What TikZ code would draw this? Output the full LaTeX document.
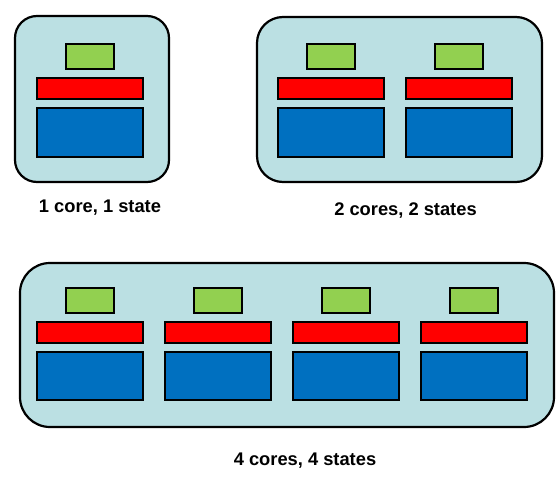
\documentclass[tikz,border=0pt]{standalone}
\usepackage{fontspec}
\setmainfont{Liberation Sans}
\definecolor{chipbg}{HTML}{BBE0E3}
\definecolor{stategreen}{HTML}{92D050}
\definecolor{cachered}{HTML}{FF0000}
\definecolor{coreblue}{HTML}{0070C0}
\tikzset{
  chip/.style={draw=black, line width=2.2pt, fill=chipbg},
  part/.style={draw=black, line width=2pt, inner sep=0pt, outer sep=0pt, anchor=north west},
  statebox/.style={part, fill=stategreen, minimum width=48pt, minimum height=25pt},
  cachebox/.style={part, fill=cachered, minimum width=106pt, minimum height=21pt},
  corebox/.style={part, fill=coreblue, minimum width=106pt, minimum height=48pt},
  caption/.style={font=\bfseries\fontsize{18.3}{21}\selectfont, anchor=base, inner sep=0pt}
}
\begin{document}
\begin{tikzpicture}[x=1pt,y=-1pt]
\useasboundingbox (0,0) rectangle (556,476);

% package outlines
\draw[chip, rounded corners=22pt] (15,16) rectangle (169,182);
\draw[chip, rounded corners=26pt] (257,17) rectangle (542,182);
\draw[chip, rounded corners=30pt] (20,263) rectangle (554,427);

% one core: state block, cache bar, execution unit
% argument: name / left x / top y
\foreach \nm/\x/\y in {a/36/44, b/277/44, c/405/44,
                       d/36/287, e/164/287, f/292/287, g/420/287} {
  \node[statebox] (s\nm) at (\x+29.5,\y+0.5) {};
  \node[cachebox] (r\nm) at (\x+0.5,\y+34.5) {};
  \node[corebox]  (k\nm) at (\x+0.5,\y+64.5) {};
}

% captions
\node[caption] (cap1) at (100,212) {1 core, 1 state};
\node[caption] (cap2) at (405.5,215) {2 cores, 2 states};
\node[caption] (cap4) at (305,465) {4 cores, 4 states};
\end{tikzpicture}
\end{document}
